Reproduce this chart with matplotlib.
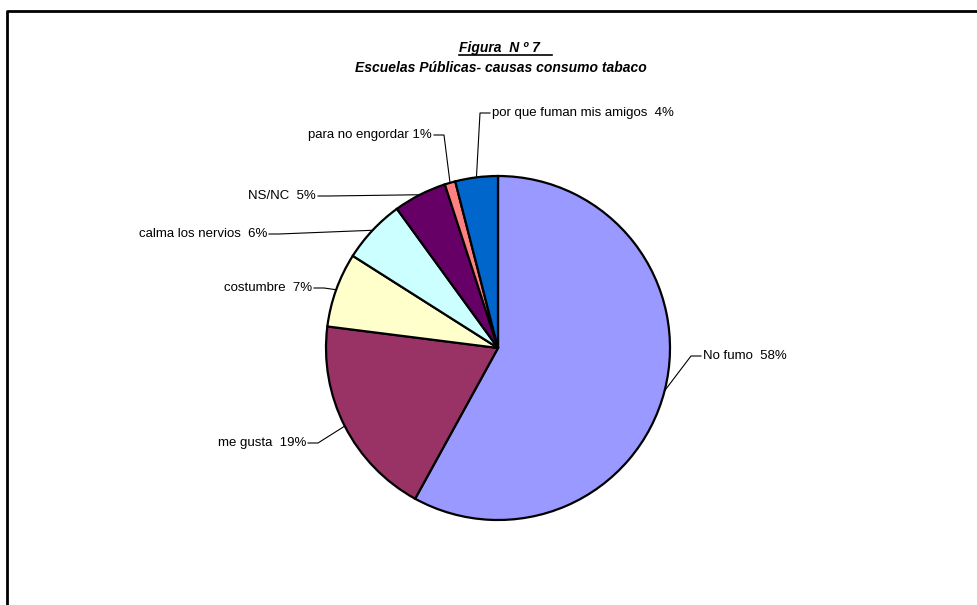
import numpy as np
import matplotlib
matplotlib.use("Agg")
import matplotlib.pyplot as plt

plt.rcParams["font.family"] = ["Liberation Sans", "DejaVu Sans"]

# data (clockwise from 12 o'clock)
labels = ["No fumo", "me gusta", "costumbre", "calma los nervios",
          "NS/NC", "para no engordar", "por que fuman mis amigos"]
values = [58, 19, 7, 6, 5, 1, 4]
colors = ["#9999FF", "#993366", "#FFFFCC", "#CCFFFF",
          "#660066", "#FF8080", "#0066CC"]
label_text = ["No fumo  58%", "me gusta  19%", "costumbre  7%",
              "calma los nervios  6%", "NS/NC  5%", "para no engordar 1%",
              "por que fuman mis amigos  4%"]

W, H = 978, 605
# layout in image pixels: (text x, text y, side)
label_pos = [(703, 356, "left"), (306, 443, "right"), (312, 288, "right"),
             (267, 234, "right"), (316, 196, "right"), (432, 135, "right"),
             (492, 113, "left")]
cx, cy, rad = 498, 348, 172

fig = plt.figure(figsize=(W / 100, H / 100), dpi=100)
ax = fig.add_axes([0, 0, 1, 1])

ax.pie(values, colors=colors, startangle=90, counterclock=False,
       center=(cx, H - cy), radius=rad,
       wedgeprops=dict(edgecolor="black", linewidth=1.6))
ax.set_xlim(0, W)
ax.set_ylim(0, H)
ax.set_aspect("equal")
ax.axis("off")

# leader lines + labels
total = sum(values)
start = 90.0
for txt, v, (tx, ty, side) in zip(label_text, values, label_pos):
    mid = start - v / total * 360 / 2
    start -= v / total * 360
    ex = cx + rad * np.cos(np.radians(mid))
    ey = (H - cy) + rad * np.sin(np.radians(mid))
    y = H - ty
    if side == "right":
        x0, x1 = tx + 2, tx + 12
        ha = "right"
    else:
        x0, x1 = tx - 2, tx - 12
        ha = "left"
    ax.plot([x0, x1, ex], [y, y, ey], color="black", linewidth=0.8)
    ax.text(tx, y, txt, ha=ha, va="center", fontsize=9.5)

# title
ax.text(459, H - 48, "Figura  N º 7 ", ha="left", va="center",
        fontsize=10, fontweight="bold", style="italic")
ax.plot([459, 552], [H - 55, H - 55], color="black", linewidth=1.2)
ax.text(501, H - 68, "Escuelas Públicas- causas consumo tabaco",
        ha="center", va="center", fontsize=10, fontweight="bold", style="italic")

# chart frame (only top and left edges are visible)
ax.plot([7, 7, W + 10], [-10, H - 11, H - 11], color="black", linewidth=2,
        clip_on=False)

fig.savefig("out.png", dpi=100)
